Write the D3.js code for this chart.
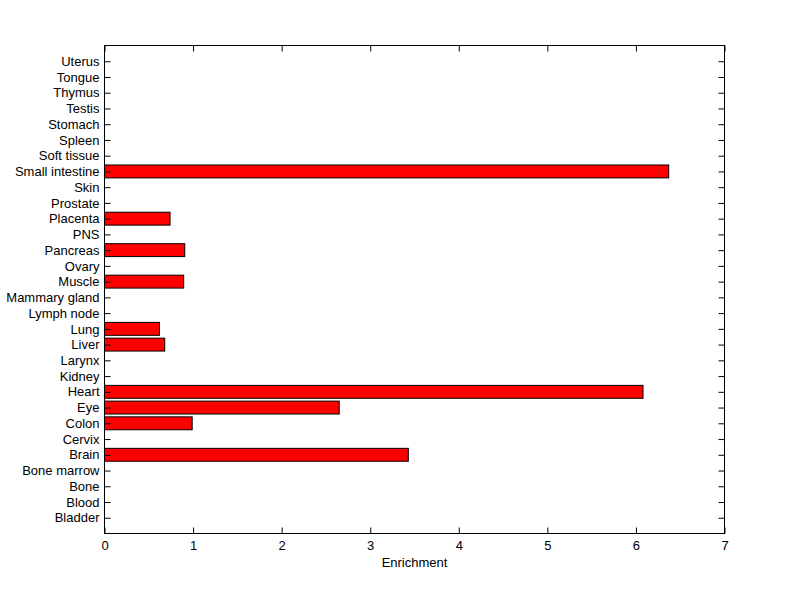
<!DOCTYPE html>
<html><head><meta charset="utf-8">
<script src="https://cdn.jsdelivr.net/npm/d3@7"></script>
<style>body{margin:0;background:#fff;} text{font-family:"Liberation Sans",Arial,sans-serif;}</style>
</head><body>
<svg id="c" width="800" height="599"></svg>
<script>
const categories = ["Bladder","Blood","Bone","Bone marrow","Brain","Cervix","Colon","Eye","Heart","Kidney","Larynx","Liver","Lung","Lymph node","Mammary gland","Muscle","Ovary","Pancreas","PNS","Placenta","Prostate","Skin","Small intestine","Soft tissue","Spleen","Stomach","Testis","Thymus","Tongue","Uterus"];
const values = [0,0,0,0,3.43,0,0.99,2.65,6.08,0,0,0.68,0.62,0,0,0.894,0,0.906,0,0.74,0,0,6.37,0,0,0,0,0,0,0];
const xTicks = [0,1,2,3,4,5,6,7];
const xLabel = "Enrichment";

const svg = d3.select("#c");
const L=104.5, R=724.5, T=45.5, B=533.5;
const x = d3.scaleLinear().domain([0,7]).range([L,R]);
const y = d3.scaleLinear().domain([0,categories.length+1]).range([B,T]);
const step = Math.abs(y(1)-y(0));
const bh = step*0.82;

svg.append("g").selectAll("rect").data(values.map((v,i)=>({v,i})).filter(d=>d.v>0))
  .join("rect")
  .attr("x", x(0)).attr("y", d=>y(d.i+1)-bh/2)
  .attr("width", d=>x(d.v)-x(0)).attr("height", bh)
  .attr("fill","#ff0000").attr("stroke","#000").attr("stroke-width",1);

const fs = 13;
const gx = svg.append("g").attr("transform",`translate(0,${B})`)
  .call(d3.axisBottom(x).tickValues(xTicks).tickSize(-6).tickPadding(7).tickFormat(d3.format("d")));
const gxt = svg.append("g").attr("transform",`translate(0,${T})`)
  .call(d3.axisTop(x).tickValues(xTicks).tickSize(-6).tickFormat(""));
const yIdx = categories.map((c,i)=>i+1);
const gy = svg.append("g").attr("transform",`translate(${L},0)`)
  .call(d3.axisLeft(y).tickValues(yIdx).tickSize(-6).tickPadding(5).tickFormat(d=>categories[d-1]));
const gyr = svg.append("g").attr("transform",`translate(${R},0)`)
  .call(d3.axisRight(y).tickValues(yIdx).tickSize(-6).tickFormat(""));
[gx,gxt,gy,gyr].forEach(g=>{
  g.select(".domain").remove();
  g.selectAll("line").attr("stroke","#000");
  g.selectAll("text").attr("font-size",fs).attr("fill","#000").style("font-family",'"Liberation Sans",Arial,sans-serif');
});
svg.append("rect").attr("x",L).attr("y",T).attr("width",R-L).attr("height",B-T)
  .attr("fill","none").attr("stroke","#000").attr("stroke-width",1);
svg.append("text").attr("x",(L+R)/2).attr("y",567).attr("text-anchor","middle")
  .attr("font-size",13).text(xLabel);
</script>
</body></html>
